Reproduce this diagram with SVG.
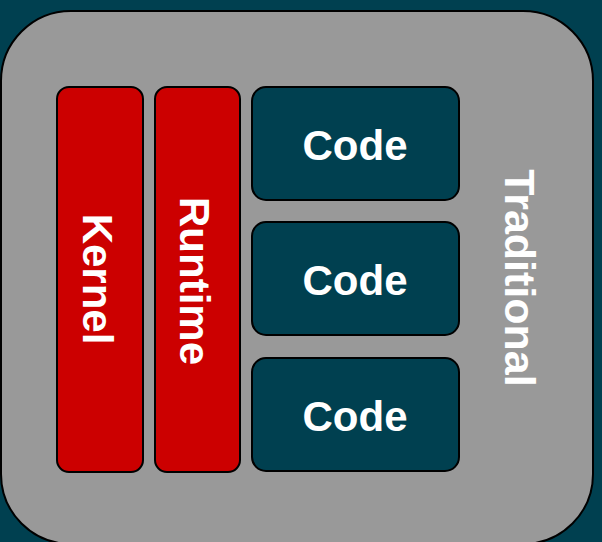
<svg xmlns="http://www.w3.org/2000/svg" width="602" height="542" viewBox="0 0 602 542">
  <style>
    .frame { fill: #999999; stroke: #000000; stroke-width: 2; }
    .layer { fill: #cc0000; stroke: #000000; stroke-width: 2; }
    .code { fill: #004050; stroke: #000000; stroke-width: 2; }
    .label { font-family: "Liberation Sans", Arial, sans-serif; font-weight: bold; font-size: 42px; fill: #ffffff; text-anchor: middle; }
  </style>
  <rect width="602" height="542" fill="#004050"/>

  <g id="traditional">
    <rect class="frame" x="1" y="11" width="592" height="533" rx="70" ry="70"/>
    <text class="label" transform="translate(520 278) rotate(90)" y="15" style="font-size:43px">Traditional</text>
  </g>

  <g id="kernel">
    <rect class="layer" x="57" y="87" width="86" height="385" rx="12" ry="12"/>
    <text class="label" transform="translate(98 279) rotate(90)" y="15">Kernel</text>
  </g>

  <g id="runtime">
    <rect class="layer" x="155" y="87" width="85" height="385" rx="12" ry="12"/>
    <text class="label" transform="translate(195 281) rotate(90)" y="15">Runtime</text>
  </g>

  <g id="code-1">
    <rect class="code" x="252" y="87" width="207" height="113" rx="14" ry="14"/>
    <text class="label" x="355" y="160">Code</text>
  </g>

  <g id="code-2">
    <rect class="code" x="252" y="222" width="207" height="113" rx="14" ry="14"/>
    <text class="label" x="355" y="295">Code</text>
  </g>

  <g id="code-3">
    <rect class="code" x="252" y="358" width="207" height="113" rx="14" ry="14"/>
    <text class="label" x="355" y="431">Code</text>
  </g>

  <g id="connectors"/>
</svg>
